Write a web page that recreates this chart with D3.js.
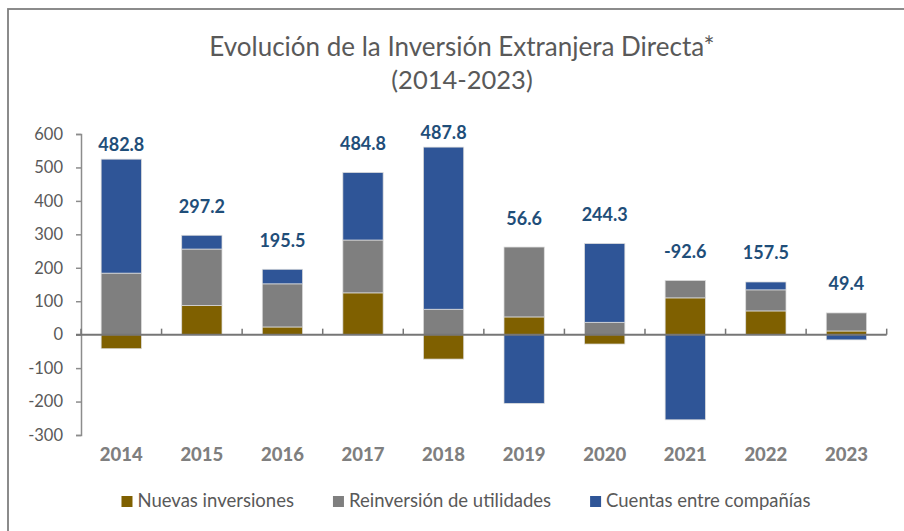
<!DOCTYPE html>
<html><head><meta charset="utf-8">
<script src="https://cdn.jsdelivr.net/npm/d3@7"></script>
<style>body{margin:0;background:#fff;} svg{display:block;font-family:Lato, "Open Sans", sans-serif;}</style>
</head><body><svg id="c" width="904" height="531"></svg>
<script>
const years = ["2014","2015","2016","2017","2018","2019","2020","2021","2022","2023"];
const nuevas = [-42, 87, 23, 125, -73, 53, -28, 110, 71, 11];
const reinversion = [184, 169, 129, 158, 76, 209, 37, 52, 63, 54];
const cuentas = [340.8, 41.2, 43.5, 201.8, 484.8, -205.4, 235.3, -254.6, 23.5, -15.6];
const totalLabels = ["482.8","297.2","195.5","484.8","487.8","56.6","244.3","-92.6","157.5","49.4"];
const seriesKeys = ["nuevas","reinversion","cuentas"];
const seriesNames = ["Nuevas inversiones","Reinversión de utilidades","Cuentas entre compañías"];
const seriesColors = ["#7F6000","#7F7F7F","#2F5597"];
const yTicks = [-300,-200,-100,0,100,200,300,400,500,600];
const titleLines = ["Evolución de la Inversión Extranjera Directa*","(2014-2023)"];

const svg = d3.select("#c");
const W = 904, H = 531;
const plot = {left:81, right:886.7, top:134, bottom:435};

// frame
svg.append("rect").attr("x",8).attr("y",9).attr("width",W+20).attr("height",H+20)
  .attr("fill","none").attr("stroke","#7f7f7f").attr("stroke-width",1.8);

const x = d3.scaleBand().domain(years).range([plot.left, plot.right]).paddingInner(0.5).paddingOuter(0.25);
const y = d3.scaleLinear().domain([-300,600]).range([plot.bottom, plot.top]);

// title
const cx = 462;
svg.append("g").selectAll("text").data(titleLines).join("text")
  .attr("x",cx).attr("y",(d,i)=>56+i*33).attr("text-anchor","middle")
  .attr("font-size",(d,i)=>i===0?26:25.5).attr("fill","#595959").text(d=>d);

// y axis
const yAxis = svg.append("g").attr("transform",`translate(${plot.left},0)`)
  .call(d3.axisLeft(y).tickValues(yTicks).tickSize(5).tickPadding(13).tickFormat(d=>String(d)));
yAxis.select(".domain").attr("stroke","#8c8c8c").attr("stroke-width",1.5);
yAxis.selectAll(".tick line").attr("stroke","#8c8c8c").attr("stroke-width",1.5);
yAxis.selectAll(".tick text").attr("font-size",16.5).attr("fill","#595959").attr("font-family","Lato");

// stacked bars
const data = years.map((yr,i)=>({year:yr, nuevas:nuevas[i], reinversion:reinversion[i], cuentas:cuentas[i]}));
const stacked = d3.stack().keys(seriesKeys).offset(d3.stackOffsetDiverging)(data);
svg.append("g").selectAll("g").data(stacked).join("g")
  .attr("fill",(d,i)=>seriesColors[i])
  .selectAll("rect").data(d=>d).join("rect")
  .attr("x",d=>x(d.data.year)).attr("width",x.bandwidth())
  .attr("y",d=>y(Math.max(d[0],d[1]))).attr("height",d=>Math.abs(y(d[0])-y(d[1])))
  .attr("stroke","#dcdcdc").attr("stroke-width",0.75);

// x axis at zero
const g0 = svg.append("g");
g0.append("line").attr("x1",plot.left-5).attr("x2",plot.right).attr("y1",y(0)).attr("y2",y(0))
  .attr("stroke","#767676").attr("stroke-width",2);
const bounds = years.map(yr=>x(yr)+x.bandwidth()/2-x.step()/2);
bounds.push(bounds[bounds.length-1]+x.step());
g0.selectAll(".xt").data(bounds).join("line").attr("class","xt")
  .attr("x1",d=>d).attr("x2",d=>d).attr("y1",y(0)).attr("y2",y(0)-6)
  .attr("stroke","#767676").attr("stroke-width",1.5);

// x labels
svg.append("g").selectAll("text").data(years).join("text")
  .attr("x",d=>x(d)+x.bandwidth()/2).attr("y",460.5).attr("text-anchor","middle")
  .attr("font-size",18.5).attr("font-weight",900).attr("fill","#7f7f7f").text(d=>d);

// total labels
const posTop = stacked[0].map((_,i)=>d3.max(stacked,s=>Math.max(s[i][0],s[i][1])));
svg.append("g").selectAll("text").data(years).join("text")
  .attr("x",d=>x(d)+x.bandwidth()/2)
  .attr("y",(d,i)=>y(posTop[i]) - (posTop[i]>500?15:29) + 6.5)
  .attr("text-anchor","middle").attr("font-size",18).attr("font-weight","bold")
  .attr("fill","#1F4E79").text((d,i)=>totalLabels[i]);

// legend
const lg = svg.append("g");
const items = lg.selectAll("g").data(seriesNames).join("g");
items.append("rect").attr("width",11).attr("height",11).attr("y",496).attr("fill",(d,i)=>seriesColors[i]);
items.append("text").attr("x",16).attr("y",507).attr("font-size",18.5).attr("fill","#595959").text(d=>d);
let widths = [];
items.each(function(){ widths.push(16 + d3.select(this).select("text").node().getComputedTextLength()); });
const gap = 39;
const total = d3.sum(widths) + gap*(widths.length-1);
let xs = 466 - total/2;
items.attr("transform",(d,i)=>{ const t = `translate(${xs},0)`; xs += widths[i]+gap; return t; });
</script></body></html>
